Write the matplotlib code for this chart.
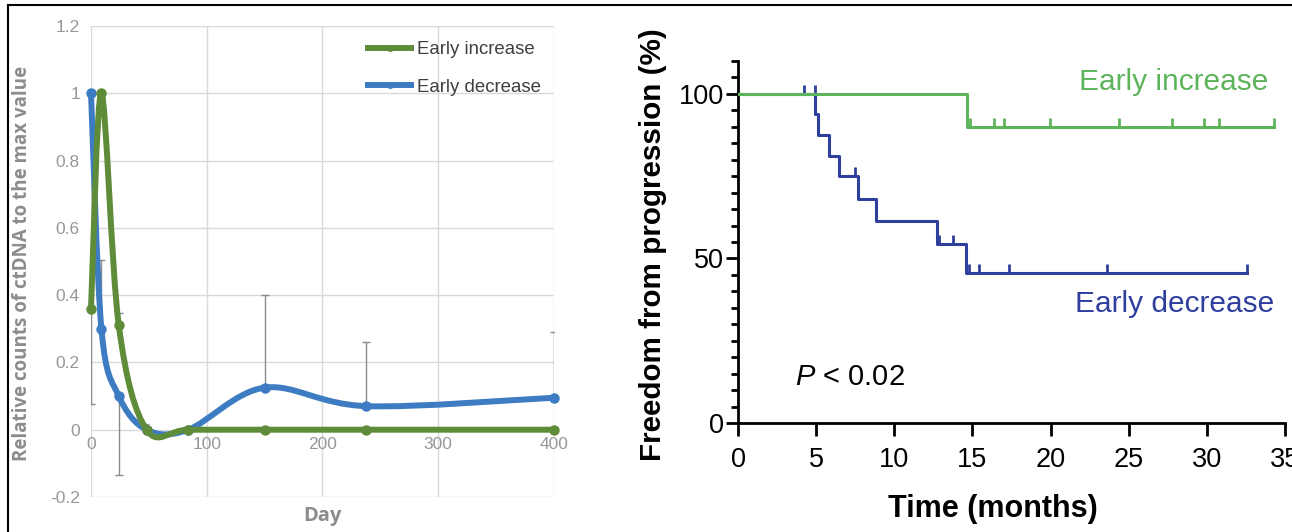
import matplotlib
matplotlib.use("Agg")
import matplotlib.pyplot as plt
import numpy as np
from matplotlib.lines import Line2D
from matplotlib.patches import PathPatch
from matplotlib.path import Path

plt.rcParams["font.family"] = ["Liberation Sans", "DejaVu Sans"]
plt.rcParams["mathtext.fontset"] = "custom"
plt.rcParams["mathtext.rm"] = "Liberation Sans"
plt.rcParams["mathtext.it"] = "Liberation Sans:italic"

# ---- left panel: relative ctDNA counts ----
day = [0, 9, 24, 48, 84, 150, 238, 400]
early_increase = [0.36, 1.0, 0.31, 0.0, 0.0, 0.0, 0.0, 0.0]
early_decrease = [1.0, 0.30, 0.10, 0.0, 0.0, 0.125, 0.07, 0.095]
err_day = [0, 9, 24, 24, 47, 150, 238, 400]
err_base = [0.36, 0.30, 0.10, 0.31, 0.0, 0.125, 0.07, 0.095]
err_end = [0.075, 0.505, -0.136, 0.347, 0.018, 0.40, 0.26, 0.29]
day_ticks = [0, 100, 200, 300, 400]
rel_ticks = [-0.2, 0, 0.2, 0.4, 0.6, 0.8, 1, 1.2]
rel_labels = ["-0.2", "0", "0.2", "0.4", "0.6", "0.8", "1", "1.2"]

# ---- right panel: Kaplan-Meier ----
dec_t = [0, 4.95, 5.09, 5.84, 6.46, 7.67, 8.85, 12.74, 14.57, 32.6]
dec_s = [100, 93.75, 87.5, 81.25, 75.0, 68.2, 61.4, 54.5, 45.5, 45.5]
dec_cens_t = [4.2, 4.9, 7.49, 12.86, 13.77, 14.8, 15.41, 17.36, 23.64, 32.6]
dec_cens_s = [100, 100, 75.0, 54.5, 54.5, 45.5, 45.5, 45.5, 45.5, 45.5]
inc_t = [0, 14.68, 34.3]
inc_s = [100, 90, 90]
inc_cens_t = [14.84, 16.4, 17.04, 19.94, 24.4, 27.8, 29.8, 30.8, 34.3]
inc_cens_s = [90, 90, 90, 90, 90, 90, 90, 90, 90]

XL_GREEN, XL_BLUE = "#5e8c38", "#3d7bc2"
KM_GREEN, KM_BLUE = "#5db45a", "#2f3f9e"
GREY_TXT = "#8c8c8c"


def smooth_path(x, y):
    """Excel-like smoothed line: cubic Bezier through the points."""
    pts = np.column_stack([x, y]).astype(float)
    n = len(pts)
    verts, codes = [pts[0]], [Path.MOVETO]
    for i in range(n - 1):
        p0, p1 = pts[max(i - 1, 0)], pts[i]
        p2, p3 = pts[i + 1], pts[min(i + 2, n - 1)]
        verts += [p1 + (p2 - p0) / 6, p2 - (p3 - p1) / 6, p2]
        codes += [Path.CURVE4] * 3
    return Path(verts, codes)


fig = plt.figure(figsize=(12.92, 5.32), dpi=100)
W, H = 1292, 532

# left
ax = fig.add_axes([91 / W, 35 / H, 463 / W, 471 / H])
ax.set_xlim(0, 400); ax.set_ylim(-0.2, 1.2)
ax.set_xticks(day_ticks); ax.set_yticks(rel_ticks, rel_labels)
ax.grid(color="#d9d9d9", lw=1)
ax.set_axisbelow(True)
for s in ax.spines.values():
    s.set_color("none")
ax.spines["bottom"].set_position(("data", 0))
ax.tick_params(length=0, labelsize=12.5, labelcolor="#979797", pad=8)
ax.tick_params(axis="x", pad=5)

ax.vlines(err_day, err_base, err_end, color="#8a8a8a", lw=1, zorder=2)
ax.plot(err_day, err_end, ls="none", marker="_", ms=6, mew=1, color="#8a8a8a", zorder=2)

for yv, col in ((early_decrease, XL_BLUE), (early_increase, XL_GREEN)):
    ax.add_patch(PathPatch(smooth_path(day, yv), fc="none", ec=col, lw=4.3,
                           capstyle="round", joinstyle="round", zorder=3, clip_on=False))
    ax.plot(day, yv, ls="none", marker="o", ms=6.5, color=col, zorder=4, clip_on=False)

handles = [Line2D([], [], color=XL_GREEN, lw=4.3, marker="o", ms=4),
           Line2D([], [], color=XL_BLUE, lw=4.3, marker="o", ms=4)]
ax.legend(handles, ["Early increase", "Early decrease"], loc="upper left",
          bbox_to_anchor=(0.579, 0.987), frameon=False, fontsize=13.4, handlelength=2.3,
          handletextpad=0.3, labelspacing=1.1, borderpad=0, labelcolor="#404040")

fig.text(22 / W, 1 - 263 / H, "Relative counts of ctDNA to the max value", rotation=90,
         ha="center", va="center", fontsize=13.5, fontweight="bold", color=GREY_TXT,
         family=["Open Sans", "DejaVu Sans"])
fig.text(322 / W, 1 - 516 / H, "Day", ha="center", va="center", fontsize=14.5,
         fontweight="bold", color=GREY_TXT, family=["Open Sans", "DejaVu Sans"])

# right
bx = fig.add_axes([738 / W, 109 / H, 547 / W, 362 / H])
bx.set_xlim(0, 35); bx.set_ylim(0, 110)
for k in ("top", "right"):
    bx.spines[k].set_visible(False)
for k in ("left", "bottom"):
    bx.spines[k].set_linewidth(2)
bx.set_xticks(np.arange(0, 36, 5))
bx.set_yticks([0, 50, 100])
bx.set_yticks(np.arange(0, 111, 5), minor=True)
bx.tick_params(axis="both", which="major", length=9, width=2, labelsize=19.5)
bx.tick_params(axis="y", which="minor", length=5, width=2)
bx.tick_params(axis="y", which="major", pad=1)
bx.tick_params(axis="x", which="major", pad=8)

bx.step(dec_t, dec_s, where="post", color=KM_BLUE, lw=2.2, zorder=3)
bx.plot(dec_cens_t, dec_cens_s, ls="none", marker=2, ms=6.5, mew=2, color=KM_BLUE, zorder=3)
bx.step(inc_t, inc_s, where="post", color=KM_GREEN, lw=2.2, zorder=4)
bx.plot(inc_cens_t, inc_cens_s, ls="none", marker=2, ms=6.5, mew=2, color=KM_GREEN, zorder=4)

bx.text(27.9, 103.7, "Early increase", color=KM_GREEN, fontsize=21.5, ha="center", va="center")
bx.text(27.95, 36.3, "Early decrease", color=KM_BLUE, fontsize=21.5, ha="center", va="center")
bx.text(3.65, 14, "$P$ < 0.02", fontsize=21, ha="left", va="center")

fig.text(653 / W, 1 - 245 / H, "Freedom from progression (%)", rotation=90, ha="center",
         va="center", fontsize=21.3, fontweight="bold")
fig.text(993 / W, 1 - 509 / H, "Time (months)", ha="center", va="center", fontsize=22,
         fontweight="bold")

# outer frame (top and left edges only)
fig.add_artist(Line2D([8 / W, 8 / W], [0, 1 - 5 / H], color="black", lw=1.5))
fig.add_artist(Line2D([8 / W, 1], [1 - 5 / H, 1 - 5 / H], color="black", lw=1.5))

fig.savefig("out.png", dpi=100)
